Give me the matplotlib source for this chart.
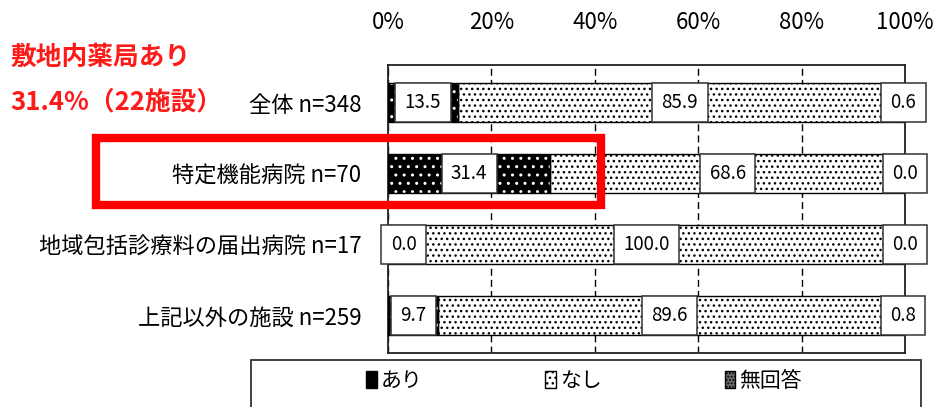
import matplotlib.pyplot as plt
from matplotlib.patches import Rectangle, Patch

plt.rcParams['font.family'] = ['Noto Sans CJK JP', 'DejaVu Sans']

# data
categories = ['全体 n=348', '特定機能病院 n=70', '地域包括診療料の届出病院 n=17', '上記以外の施設 n=259']
ari = [13.5, 31.4, 0.0, 9.7]
nashi = [85.9, 68.6, 100.0, 89.6]
mukaitou = [0.6, 0.0, 0.0, 0.8]
series_names = ['あり', 'なし', '無回答']
x_ticks = [0, 20, 40, 60, 80, 100]

W, H = 937, 407
fig = plt.figure(figsize=(W / 100, H / 100), dpi=100)
ax = fig.add_axes([388 / W, 1 - 353 / H, (905 - 388) / W, (353 - 65) / H])

y = list(range(len(categories)))
bar_h = 0.56

# (face, hatch colour, hatch) for each series
styles = [('black', 'white', '..'),
          ('white', 'black', '...'),
          ('#707070', 'white', '.....')]

left = [0.0] * len(categories)
for vals, (fc, hc, hatch) in zip([ari, nashi, mukaitou], styles):
    ax.barh(y, vals, left=left, height=bar_h, color=fc, edgecolor=hc,
            hatch=hatch, linewidth=0, zorder=2)
    ax.barh(y, vals, left=left, height=bar_h, fill=False,
            edgecolor='black', linewidth=1.0, zorder=3)
    left = [l + v for l, v in zip(left, vals)]

# value labels
box = dict(boxstyle='square,pad=0.5', facecolor='white', edgecolor='#333333', linewidth=1.1)
for i in y:
    a, n, m = ari[i], nashi[i], mukaitou[i]
    ax.text(max(a / 2, 3.0), i, f'{a:.1f}', ha='center', va='center', fontsize=13.5, bbox=box, zorder=5)
    ax.text(a + n / 2, i, f'{n:.1f}', ha='center', va='center', fontsize=13.5, bbox=box, zorder=5)
    ax.text(100 - m / 2, i, f'{m:.1f}', ha='center', va='center', fontsize=13.5, bbox=box, zorder=5)

ax.set_xlim(0, 100)
ax.set_ylim(len(categories) - 0.47, -0.53)
ax.set_yticks(y)
ax.set_yticklabels(categories, fontsize=16)
ax.set_xticks(x_ticks)
ax.set_xticklabels([f'{t}%' for t in x_ticks], fontsize=16)
ax.xaxis.tick_top()
ax.tick_params(axis='x', length=0, pad=22)
ax.tick_params(axis='y', length=0, pad=19)
ax.grid(axis='x', color='black', linestyle=(0, (5, 3)), linewidth=1.0, zorder=1)
for s in ax.spines.values():
    s.set_linewidth(1.3)
    s.set_color('#222222')

# red annotation
fig.text(10 / W, 1 - 57 / H, '敷地内薬局あり', color='#ff1a1a', fontsize=18.5,
         fontweight='bold', ha='left', va='center')
fig.text(10 / W, 1 - 102 / H, '31.4%（22施設）', color='#ff1a1a', fontsize=18.5,
         fontweight='bold', ha='left', va='center')
fig.add_artist(Rectangle((96 / W, 1 - 205 / H), (601 - 96) / W, (205 - 138) / H,
                         transform=fig.transFigure, fill=False, edgecolor='#ff0000',
                         linewidth=6, zorder=10))

# legend with its own frame running off the bottom edge
fig.add_artist(Rectangle((251 / W, -0.1), (921 - 251) / W, 0.1 + 1 - 360 / H,
                         transform=fig.transFigure, fill=False, edgecolor='#333333',
                         linewidth=1.3))
handles = [Patch(facecolor=fc, edgecolor=hc, hatch=hatch, linewidth=0)
           for fc, hc, hatch in styles]
leg = fig.legend(handles, series_names, loc='center', bbox_to_anchor=(584 / W, 1 - 381 / H),
                 ncol=3, frameon=False, fontsize=15, handlelength=0.5, handleheight=0.9,
                 handletextpad=0.2, columnspacing=5.9)
for h in leg.legend_handles:
    h.set_edgecolor('black')
    h.set_linewidth(1.0)

fig.savefig('out.png', dpi=100)
